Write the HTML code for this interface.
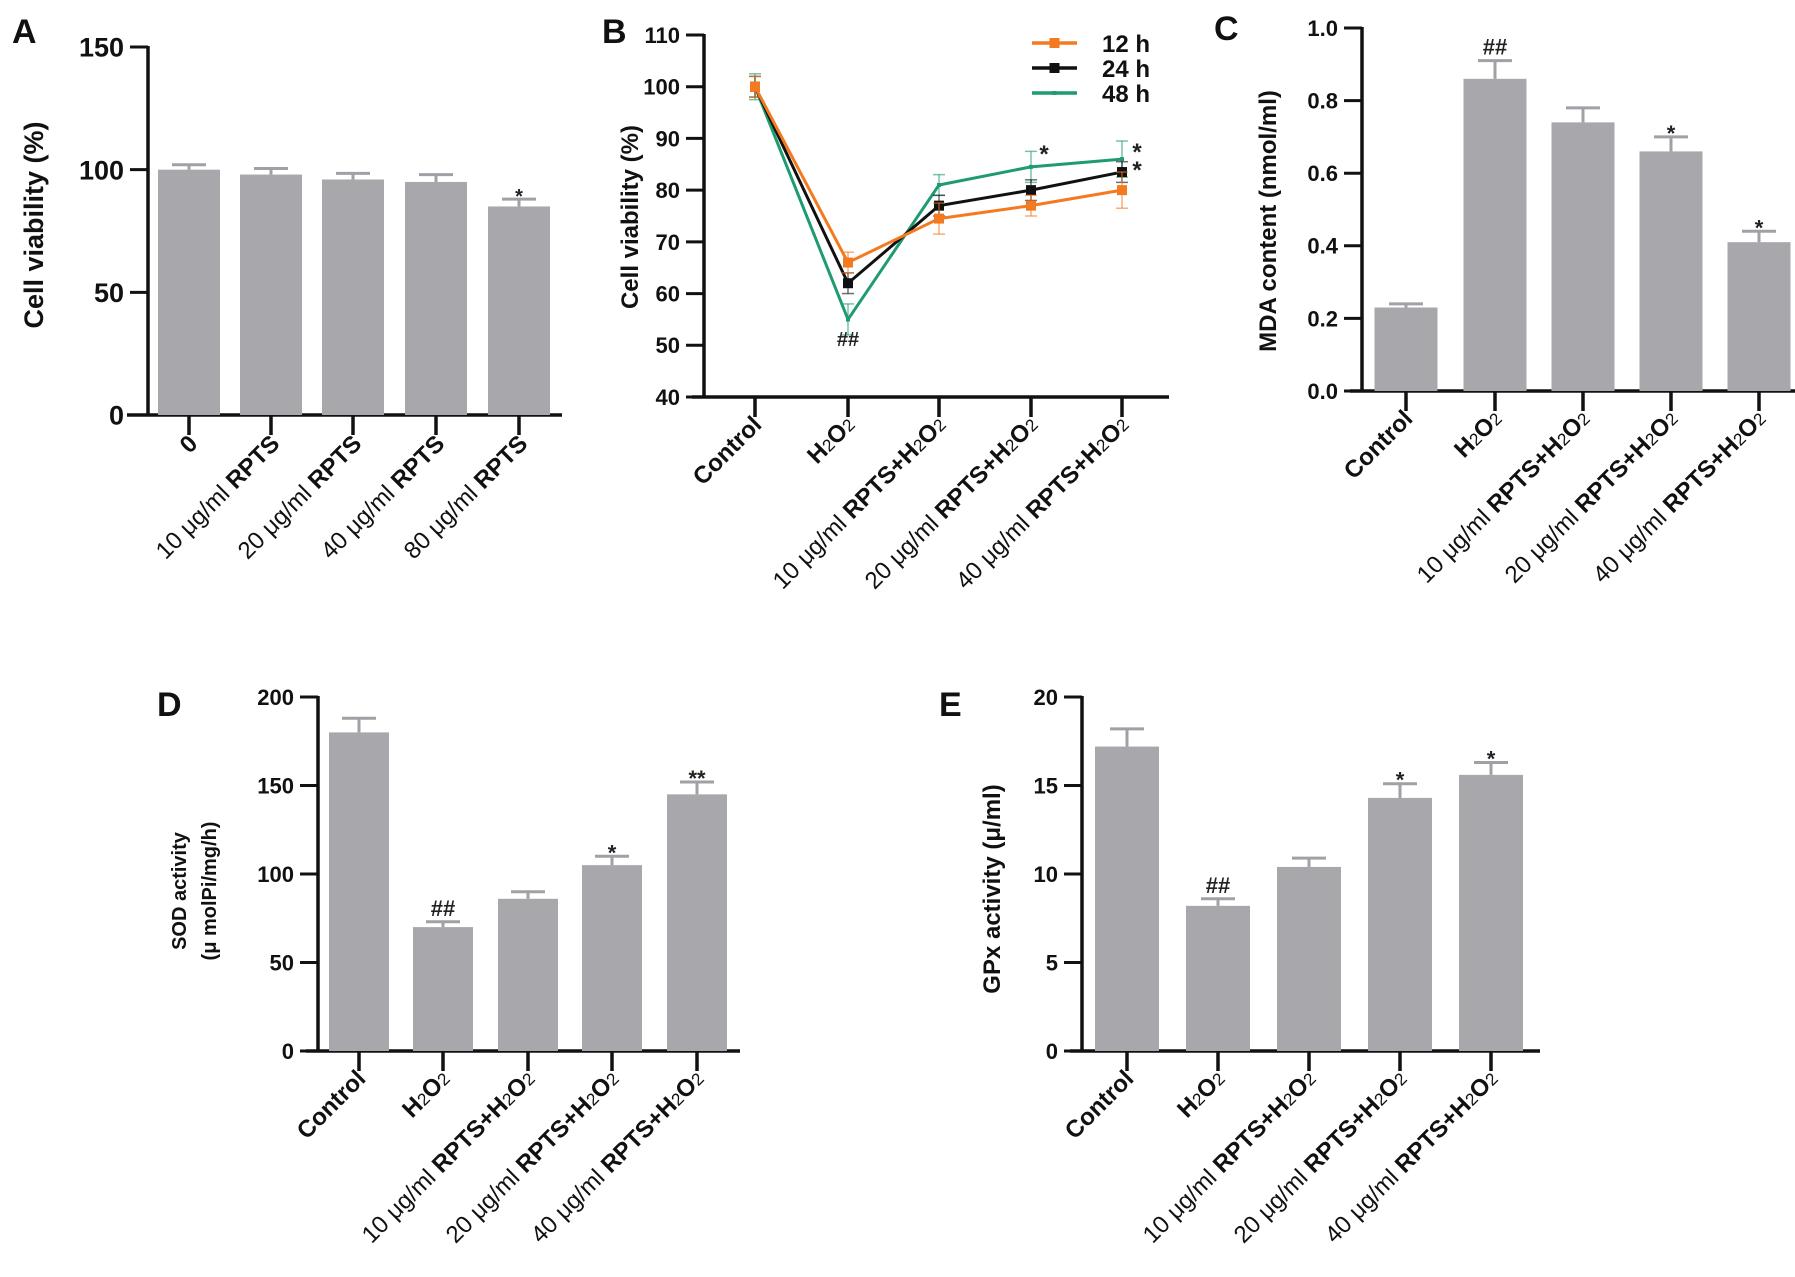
<!DOCTYPE html>
<html><head><meta charset="utf-8"><style>
html,body{margin:0;padding:0;background:#fff;}
svg{display:block;font-family:"Liberation Sans",Arial,sans-serif;}
</style></head><body>
<svg id="fig" width="1795" height="1277" viewBox="0 0 1795 1277" xmlns="http://www.w3.org/2000/svg"></svg>
<script>
// Panel A data
const aCats = ["0","10 μg/ml RPTS","20 μg/ml RPTS","40 μg/ml RPTS","80 μg/ml RPTS"];
const aVals = [100, 98, 96, 95, 85];
const aErrs = [2, 2.5, 2.5, 3, 3];
const aAnn = ["","","","","*"];
const aTicks = [0, 50, 100, 150];
// Panel B data
const bCats = ["Control","H2O2","10|RPTS+H2O2","20|RPTS+H2O2","40|RPTS+H2O2"];
const b12 = [100, 66, 74.5, 77, 80];
const b24 = [100, 62, 77, 80, 83.5];
const b48 = [100, 55, 81, 84.5, 86];
const b12e = [2, 2, 3, 2, 3.5];
const b24e = [2, 2, 2, 2, 2];
const b48e = [2.5, 3, 2, 3, 3.5];
const bTicks = [40, 50, 60, 70, 80, 90, 100, 110];
const bSeries = ["12 h","24 h","48 h"];
// Panel C data
const cCats = ["Control","H2O2","10|RPTS+H2O2","20|RPTS+H2O2","40|RPTS+H2O2"];
const cVals = [0.23, 0.86, 0.74, 0.66, 0.41];
const cErrs = [0.01, 0.05, 0.04, 0.04, 0.03];
const cAnn = ["","##","","*","*"];
const cTicks = [0, 0.2, 0.4, 0.6, 0.8, 1.0];
// Panel D data
const dVals = [180, 70, 86, 105, 145];
const dErrs = [8, 3, 4, 5, 7];
const dAnn = ["","##","","*","**"];
const dTicks = [0, 50, 100, 150, 200];
// Panel E data
const eVals = [17.2, 8.2, 10.4, 14.3, 15.6];
const eErrs = [1, 0.4, 0.5, 0.8, 0.7];
const eAnn = ["","##","","*","*"];
const eTicks = [0, 5, 10, 15, 20];

const NS = "http://www.w3.org/2000/svg";
const svg = document.getElementById("fig");
function mk(tag, attrs, parent){
  const e = document.createElementNS(NS, tag);
  for (const k in attrs) e.setAttribute(k, attrs[k]);
  (parent||svg).appendChild(e);
  return e;
}
function setText(e, t){ e.textContent = t; return e; }

function catLabel(g, label, x, y, fs){
  const t = mk("text", {x:x, y:y, "text-anchor":"end", "font-size":fs, transform:`rotate(-45 ${x} ${y})`, fill:"#111"}, g);
  
  
  const addSpan = (txt, bold, sub) => {
    const s = mk("tspan", {"font-weight": bold ? "bold" : "normal"}, t);
    if (sub) { s.setAttribute("font-size", fs*0.72); }
    s.textContent = txt;
  };
  const addH2O2 = (bold) => { addSpan("H",bold); addSpan("2",false,true); addSpan("O",bold); addSpan("2",false,true); };
  if (label === "H2O2") { addH2O2(true); }
  else if (label.indexOf("|") >= 0) {
    const [num, rest] = label.split("|");
    addSpan(num + " μg/ml ", false);
    addSpan("RPTS+", true);
    addH2O2(true);
  } else if (label.indexOf("μg/ml") >= 0) {
    const i = label.indexOf("RPTS");
    addSpan(label.slice(0,i), false); addSpan("RPTS", true);
  } else addSpan(label, true);
}

function axes(g, o){
  const ys = v => o.yBot - (v - o.vmin)/(o.vmax - o.vmin)*(o.yBot - o.yTop);
  const ya = mk("line", {x1:o.x0, y1:o.yTop-1, x2:o.x0, y2:o.yBot, stroke:"#111", "stroke-width":3.5}, g);
  
  
  const xa = mk("line", {x1:o.x0-(o.xExt||20), y1:o.yBot, x2:o.x1, y2:o.yBot, stroke:"#111", "stroke-width":3.5}, g);
  
  
  o.ticks.forEach(v => {
    const y = ys(v);
    mk("line", {x1:o.x0-18, y1:y, x2:o.x0, y2:y, stroke:"#111", "stroke-width":3}, g);
    const t = setText(mk("text", {x:o.x0-24, y:y + o.tickFs*0.36, "text-anchor":"end", "font-size":o.tickFs, "font-weight":"bold", fill:"#111"}, g), o.fmt(v));
    
    
  });
  o.catX.forEach(x => mk("line", {x1:x, y1:o.yBot, x2:x, y2:o.yBot+20, stroke:"#111", "stroke-width":3.5}, g));
  return ys;
}

function bars(g, ys, catX, vals, errs, ann, bw, annFs){
  vals.forEach((v,i) => {
    const x = catX[i];
    const r = mk("rect", {x:x-bw/2, y:ys(v), width:bw, height:ys(0)-ys(v), fill:"#a7a7ac"}, g);
    
    
    const ye = ys(v + errs[i]);
    mk("line", {x1:x, y1:ys(v), x2:x, y2:ye, stroke:"#a0a0a6", "stroke-width":3}, g);
    mk("line", {x1:x-17, y1:ye, x2:x+17, y2:ye, stroke:"#a0a0a6", "stroke-width":3}, g);
    if (ann[i]) {
      const t = setText(mk("text", {x:x, y:ye - 6 + (ann[i][0]==="*"?10:0), "text-anchor":"middle", "font-size":annFs, "font-weight":"bold", fill:"#222"}, g), ann[i]);
      
      
    }
  });
}

function panelLetter(l, x, y){
  const t = setText(mk("text", {x:x, y:y, "font-size":34, "font-weight":"bold", fill:"#111"}), l);
  
  
}
function yTitle(g, lines, x, cy, fs){
  lines.forEach((ln, i) => {
    const xx = x + i*fs*1.5;
    const t = setText(mk("text", {x:xx, y:cy, "text-anchor":"middle", "font-size":fs, "font-weight":"bold", fill:"#111", transform:`rotate(-90 ${xx} ${cy})`}, g), ln);
    
    
  });
}

// ---------- Panel A ----------
{
  const g = mk("g", {});  
  const catX = [189, 271, 353, 436, 519];
  const ys = axes(g, {x0:148, x1:562, yTop:47, yBot:415, vmin:0, vmax:150, ticks:aTicks, tickFs:27, fmt:v=>String(v), catX, xExt:21});
  bars(g, ys, catX, aVals, aErrs, aAnn, 62, 20);
  aCats.forEach((c,i) => catLabel(g, c, catX[i]+10, 445, 24));
  panelLetter("A", 12, 43);
  yTitle(g, ["Cell viability (%)"], 43, 225, 27);
}
// ---------- Panel B ----------
{
  const g = mk("g", {});  
  const catX = [755, 848, 939, 1031, 1122];
  const ys = axes(g, {x0:704, x1:1169, yTop:35, yBot:397, vmin:40, vmax:110, ticks:bTicks, tickFs:22, fmt:v=>String(v), catX, xExt:12});
  const cols = ["#f47a20", "#111111", "#1f9b70"];
  const data = [b12, b24, b48], errs = [b12e, b24e, b48e];
  [2,1,0].forEach(s => {
    const pts = data[s].map((v,i) => `${catX[i]},${ys(v)}`).join(" ");
    data[s].forEach((v,i) => {
      const y1 = ys(v+errs[s][i]), y2 = ys(v-errs[s][i]);
      mk("line", {x1:catX[i], y1:y1, x2:catX[i], y2:y2, stroke:cols[s], "stroke-width":1.5, opacity:0.6}, g);
      mk("line", {x1:catX[i]-6, y1:y1, x2:catX[i]+6, y2:y1, stroke:cols[s], "stroke-width":1.5, opacity:0.6}, g);
      mk("line", {x1:catX[i]-6, y1:y2, x2:catX[i]+6, y2:y2, stroke:cols[s], "stroke-width":1.5, opacity:0.6}, g);
    });
    const pl = mk("polyline", {points:pts, fill:"none", stroke:cols[s], "stroke-width":3}, g);
    
    
    data[s].forEach((v,i) => {
      const sz = s===2 ? 4 : 10;
      const m = mk("rect", {x:catX[i]-sz/2, y:ys(v)-sz/2, width:sz, height:sz, fill:cols[s]}, g);
      
      
    });
  });
  const legY = [43, 68, 93];
  bSeries.forEach((n,s) => {
    mk("line", {x1:1032, y1:legY[s], x2:1077, y2:legY[s], stroke:cols[s], "stroke-width":3.5}, g);
    const sz = s===2 ? 4 : 10;
    mk("rect", {x:1054.5-sz/2, y:legY[s]-sz/2, width:sz, height:sz, fill:cols[s]}, g);
    const t = setText(mk("text", {x:1102, y:legY[s]+9, "font-size":24, "font-weight":"bold", fill:"#111"}, g), n);
    
    
  });
  const ann = [["##", 848, 346, 20], ["*", 1044, 162, 24], ["*", 1137, 160, 24], ["*", 1137, 178, 24]];
  ann.forEach(a => { const t = setText(mk("text", {x:a[1], y:a[2], "text-anchor":"middle", "font-size":a[3], "font-weight":"bold", fill:"#222"}, g), a[0]);
      });
  bCats.forEach((c,i) => catLabel(g, c, catX[i]+8, 426, 24));
  panelLetter("B", 602, 43);
  yTitle(g, ["Cell viability (%)"], 638, 217, 24);
}
// ---------- Panel C ----------
{
  const g = mk("g", {});  
  const catX = [1406, 1495, 1583, 1671, 1759];
  const ys = axes(g, {x0:1362, x1:1795, yTop:28, yBot:391, vmin:0, vmax:1.0, ticks:cTicks, tickFs:22, fmt:v=>v.toFixed(1), catX, xExt:12});
  bars(g, ys, catX, cVals, cErrs, cAnn, 63, 22);
  cCats.forEach((c,i) => catLabel(g, c, catX[i]+8, 420, 24));
  panelLetter("C", 1214, 40);
  yTitle(g, ["MDA content (nmol/ml)"], 1276, 221, 24);
}
// ---------- Panel D ----------
{
  const g = mk("g", {});  
  const catX = [359, 443, 528, 612, 697];
  const ys = axes(g, {x0:318, x1:740, yTop:697, yBot:1051, vmin:0, vmax:200, ticks:dTicks, tickFs:22, fmt:v=>String(v), catX, xExt:12});
  bars(g, ys, catX, dVals, dErrs, dAnn, 60, 22);
  const dCats = ["Control","H2O2","10|RPTS+H2O2","20|RPTS+H2O2","40|RPTS+H2O2"];
  dCats.forEach((c,i) => catLabel(g, c, catX[i]+8, 1080, 24));
  panelLetter("D", 157, 716);
  yTitle(g, ["SOD activity", "(μ molPi/mg/h)"], 186, 891, 20);
}
// ---------- Panel E ----------
{
  const g = mk("g", {});  
  const catX = [1127, 1218, 1309, 1400, 1491];
  const ys = axes(g, {x0:1082, x1:1540, yTop:697, yBot:1051, vmin:0, vmax:20, ticks:eTicks, tickFs:22, fmt:v=>String(v), catX, xExt:12});
  bars(g, ys, catX, eVals, eErrs, eAnn, 64, 22);
  const eCats = ["Control","H2O2","10|RPTS+H2O2","20|RPTS+H2O2","40|RPTS+H2O2"];
  eCats.forEach((c,i) => catLabel(g, c, catX[i]+8, 1080, 24));
  panelLetter("E", 939, 716);
  yTitle(g, ["GPx activity (μ/ml)"], 1000, 889, 24);
}
</script>
</body></html>
